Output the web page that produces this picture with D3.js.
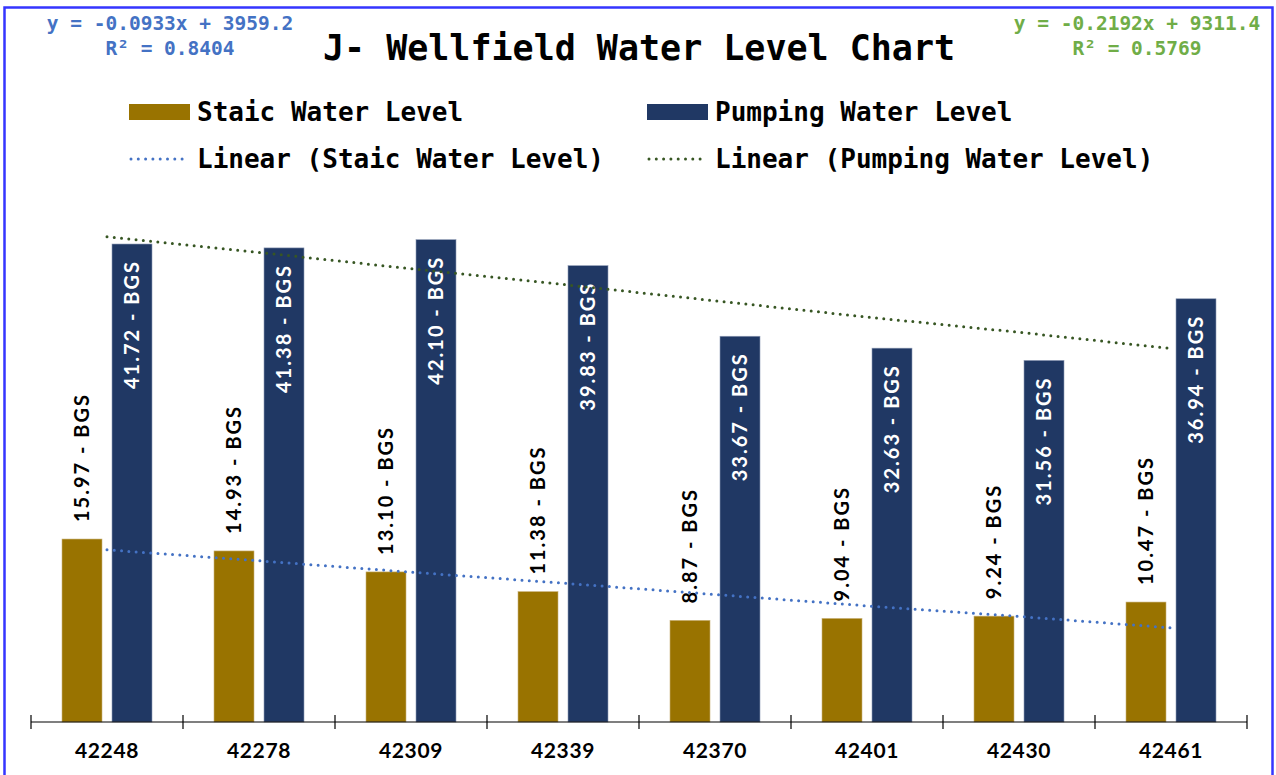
<!DOCTYPE html>
<html><head><meta charset="utf-8">
<script src="https://cdn.jsdelivr.net/npm/d3@7"></script>
<style>
html,body{margin:0;padding:0;background:#fff;}
svg{display:block;}
</style></head>
<body>
<svg id="chart" width="1276" height="775"></svg>
<script>
const categories = ["42248","42278","42309","42339","42370","42401","42430","42461"];
const dateValues = [42248,42278,42309,42339,42370,42401,42430,42461];
const staticLevel = [15.97,14.93,13.10,11.38,8.87,9.04,9.24,10.47];
const pumpingLevel = [41.72,41.38,42.10,39.83,33.67,32.63,31.56,36.94];
const seriesNames = ["Staic Water Level","Pumping Water Level"];
const trendNames = ["Linear (Staic Water Level)","Linear (Pumping Water Level)"];
const staticEq = ["y = -0.0933x + 3959.2","R\u00B2 = 0.8404"];
const pumpingEq = ["y = -0.2192x + 9311.4","R\u00B2 = 0.5769"];
const labelSuffix = " - BGS";

const W = 1276, H = 775;
const svg = d3.select("#chart");
const mono = "'DejaVu Sans Mono', 'Liberation Mono', monospace";
const sans = "Lato, 'Open Sans', sans-serif";
const gold = "#997300", navy = "#203864";

// border
svg.append("rect").attr("x",4.5).attr("y",7.5).attr("width",1268).attr("height",780)
  .attr("fill","none").attr("stroke","#3535ff").attr("stroke-width",2.5);

const x0 = 31, x1 = 1247, yBase = 722;
const x = d3.scaleBand().domain(categories).range([x0,x1]).paddingInner(0).paddingOuter(0);
const sub = d3.scaleBand().domain([0,1]).range([31, x.bandwidth()-31]).paddingInner(0.2).paddingOuter(0);
// y: 0..45 -> 722..206.4
const y = d3.scaleLinear().domain([0,45]).range([yBase, yBase - 45*11.457]);

// bars
const g = svg.append("g");
const series = [staticLevel, pumpingLevel];
const colors = [gold, navy];
series.forEach((vals, si) => {
  g.selectAll(null).data(vals).enter().append("rect")
    .attr("x",(d,i)=>x(categories[i]) + sub(si))
    .attr("y",d=>y(d))
    .attr("width",sub.bandwidth())
    .attr("height",d=>yBase - y(d))
    .attr("fill",colors[si])
    .attr("stroke", si===0 ? "#c9b27a" : "#8e9bb5").attr("stroke-width",0.6);
});

// trendlines (least squares on date values)
function regress(xs, ys){
  const mx = d3.mean(xs), my = d3.mean(ys);
  let sxy=0, sxx=0;
  xs.forEach((v,i)=>{sxy+=(v-mx)*(ys[i]-my); sxx+=(v-mx)*(v-mx);});
  const m = sxy/sxx; return {m, b: my - m*mx};
}
const trendColors = ["#4472C4","#375623"];
series.forEach((vals, si) => {
  const r = regress(dateValues, vals);
  const pts = categories.map((c,i)=>[x(c)+x.bandwidth()/2, y(r.m*dateValues[i]+r.b)]);
  svg.append("path").attr("d", d3.line()(pts))
    .attr("fill","none").attr("stroke",trendColors[si]).attr("stroke-width",3)
    .attr("stroke-linecap","round").attr("stroke-dasharray","0,7.3");
});

// data labels
g.selectAll(null).data(staticLevel).enter().append("text")
  .attr("transform",(d,i)=>{
    const cx = x(categories[i]) + sub(0) + sub.bandwidth()/2;
    return `translate(${cx+7},${y(d)-17}) rotate(-90)`;
  })
  .attr("text-anchor","start")
  .style("font-family",sans).style("font-weight","bold").style("font-size","20px")
  .style("letter-spacing","2px").attr("fill","#000")
  .text(d=>d.toFixed(2)+labelSuffix);
g.selectAll(null).data(pumpingLevel).enter().append("text")
  .attr("transform",(d,i)=>{
    const cx = x(categories[i]) + sub(1) + sub.bandwidth()/2;
    return `translate(${cx+7},${y(d)+16}) rotate(-90)`;
  })
  .attr("text-anchor","end")
  .style("font-family",sans).style("font-weight","bold").style("font-size","20px")
  .style("letter-spacing","2px").attr("fill","#fff")
  .text(d=>d.toFixed(2)+labelSuffix);

// axis
const axis = d3.axisBottom(x).tickSize(0).tickPadding(0);
const ax = svg.append("g").attr("transform",`translate(0,${yBase})`).call(axis);
ax.select(".domain").attr("stroke","#000").attr("stroke-width",1.2).attr("d",`M${x0},0H${x1}`);
ax.selectAll(".tick text").attr("y",36).attr("dy","0")
  .style("font-family",sans).style("font-weight","bold").style("font-size","21px")
  .style("letter-spacing","0.6px").attr("fill","#000");
const bounds = categories.map(c=>x(c)).concat([x1]);
ax.selectAll(".sep").data(bounds).enter().append("line").attr("class","sep")
  .attr("x1",d=>d).attr("x2",d=>d).attr("y1",-7).attr("y2",7)
  .attr("stroke","#000").attr("stroke-width",1.2);

// title
svg.append("text").attr("x",639).attr("y",60).attr("text-anchor","middle")
  .style("font-family",mono).style("font-weight","bold").style("font-size","35px")
  .attr("fill","#000").text("J- Wellfield Water Level Chart");

// equations
function eq(lines, cx, color){
  lines.forEach((t,i)=>{
    svg.append("text").attr("x",cx).attr("y",30+ i*25).attr("text-anchor","middle")
      .style("font-family",mono).style("font-weight","bold").style("font-size","19.5px")
      .attr("fill",color).text(t);
  });
}
eq(staticEq, 170, "#4472C4");
eq(pumpingEq, 1137, "#70AD47");

// legend
const leg = svg.append("g");
const legItems = [
  {x:129, y:112, type:"rect", color:gold, label:seriesNames[0]},
  {x:647, y:112, type:"rect", color:navy, label:seriesNames[1]},
  {x:129, y:159, type:"dot", color:"#4472C4", label:trendNames[0]},
  {x:647, y:159, type:"dot", color:"#375623", label:trendNames[1]}
];
legItems.forEach(it=>{
  if(it.type==="rect"){
    leg.append("rect").attr("x",it.x).attr("y",it.y-8).attr("width",61).attr("height",16).attr("fill",it.color);
  } else {
    leg.append("line").attr("x1",it.x+2).attr("x2",it.x+60).attr("y1",it.y).attr("y2",it.y)
      .attr("stroke",it.color).attr("stroke-width",3).attr("stroke-linecap","round").attr("stroke-dasharray","0,7.3");
  }
  leg.append("text").attr("x",it.x+68).attr("y",it.y+9)
    .style("font-family",mono).style("font-weight","bold").style("font-size","26px")
    .attr("fill","#000").text(it.label);
});
</script>
</body></html>
